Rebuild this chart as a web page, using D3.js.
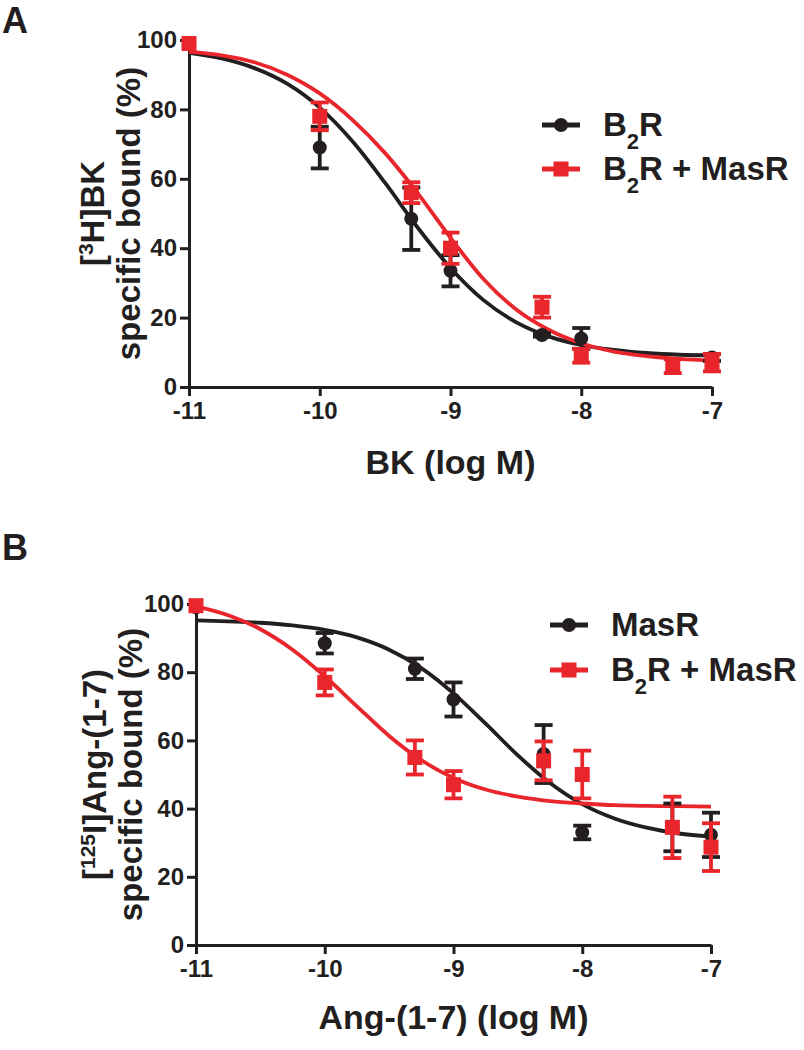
<!DOCTYPE html>
<html>
<head>
<meta charset="utf-8">
<script src="https://cdn.jsdelivr.net/npm/d3@7"></script>
<style>
  html, body { margin: 0; padding: 0; background: #fff; }
  svg { display: block; }
  text { font-family: "Liberation Sans", Arial, Helvetica, sans-serif; font-weight: bold; fill: #231f20; }
</style>
</head>
<body>
<svg id="chart" width="804" height="1050"></svg>
<script>
// ---------- data ----------
const xTicks = [-11, -10, -9, -8, -7];
const yTicks = [0, 20, 40, 60, 80, 100];

// measured concentrations (log M)
const doseX = [-11, -10, -9.3, -9, -8.3, -8, -7.3, -7];

// Panel A: [3H]BK binding
const aB2RMean = [99, 69, 48.5, 33.5, 15, 14, null, 8.5];
const aB2RErr  = [0, 6, 9, 4.5, 0.5, 3, null, 1];
const aMixMean = [99, 78, 56, 40, 23, 9, 6, 7];
const aMixErr  = [0, 4, 3, 4.5, 3, 2, 2, 2.5];

// Panel B: [125I]Ang-(1-7) binding
const bMasMean = [99, 88.5, 81, 72, 56, 33, 34.5, 32.3];
const bMasErr  = [0, 3, 3, 5, 8.5, 2, 7, 6.5];
const bMixMean = [99.5, 77, 55, 47, 54, 50, 34.5, 28.7];
const bMixErr  = [0, 3.8, 5, 4, 5.7, 7, 9, 7];

// fitted curves
const fitX = [-11, -10.75, -10.5, -10.25, -10, -9.75, -9.5, -9.25, -9, -8.75, -8.5, -8.25, -8, -7.75, -7.5, -7.25, -7];
const aFitB2R = [96.3, 94.7, 91.9, 87.4, 80.5, 70.8, 58.8, 45.9, 34.3, 25.1, 18.7, 14.6, 12.1, 10.7, 9.8, 9.3, 9.1];
const aFitMix = [96.6, 95.6, 93.6, 90.0, 84.6, 77.0, 67.4, 55.8, 43.0, 31.2, 22.4, 16.5, 12.6, 10.2, 8.9, 8.1, 7.6];
const bFitMas = [95.2, 94.9, 94.5, 93.7, 92.4, 90.2, 86.6, 81.2, 73.8, 64.9, 55.6, 47.5, 41.3, 37.1, 34.4, 32.7, 31.8];
const bFitMix = [99.3, 96.7, 92.6, 86.6, 78.8, 70.0, 61.3, 54.2, 49.0, 45.6, 43.5, 42.2, 41.5, 41.0, 40.8, 40.7, 40.6];

const BLACK = "#231f20";
const RED = "#e8262b";

const svg = d3.select("#chart");

function panel(cfg) {
  const g = svg.append("g");
  const x = d3.scaleLinear().domain([-11, -7]).range([cfg.x0, cfg.x1]);
  const y = d3.scaleLinear().domain([0, 100]).range([cfg.y0, cfg.y1]);

  // axes
  const xAxis = d3.axisBottom(x).tickValues(xTicks).tickSize(9).tickSizeOuter(0).tickPadding(6)
    .tickFormat(d => d3.format("d")(d).replace("\u2212", "-"));
  const yAxis = d3.axisLeft(y).tickValues(yTicks).tickSize(9).tickSizeOuter(0).tickPadding(3);

  const gx = g.append("g").attr("transform", `translate(0,${cfg.y0})`).call(xAxis);
  const gy = g.append("g").attr("transform", `translate(${cfg.x0},0)`).call(yAxis);
  [gx, gy].forEach(a => {
    a.attr("font-size", 24).attr("font-family", "'Liberation Sans', Arial, sans-serif").attr("font-weight", "bold");
    a.select(".domain").attr("stroke", BLACK).attr("stroke-width", 3);
    a.selectAll(".tick line").attr("stroke", BLACK).attr("stroke-width", 3);
    a.selectAll(".tick text").attr("fill", BLACK).attr("font-size", 24);
  });

  // series
  const line = d3.line().x(d => x(d[0])).y(d => y(d[1])).curve(d3.curveMonotoneX);
  cfg.series.forEach(s => {
    g.append("path").datum(fitX.map((v, i) => [v, s.fit[i]]))
      .attr("d", line).attr("fill", "none").attr("stroke", s.color).attr("stroke-width", 3.8);
  });
  cfg.series.forEach(s => {
    const pts = doseX.map((v, i) => ({ x: v, m: s.mean[i], e: s.err[i] })).filter(d => d.m != null);
    const eg = g.append("g");
    pts.forEach(d => {
      if (d.e > 0) {
        eg.append("line").attr("x1", x(d.x)).attr("x2", x(d.x))
          .attr("y1", y(d.m - d.e)).attr("y2", y(d.m + d.e))
          .attr("stroke", s.color).attr("stroke-width", 3.8);
        [d.m - d.e, d.m + d.e].forEach(v => {
          eg.append("line").attr("x1", x(d.x) - 9).attr("x2", x(d.x) + 9)
            .attr("y1", y(v)).attr("y2", y(v))
            .attr("stroke", s.color).attr("stroke-width", 3.8);
        });
      }
    });
    pts.forEach(d => {
      if (s.shape === "circle") {
        eg.append("circle").attr("cx", x(d.x)).attr("cy", y(d.m)).attr("r", 7).attr("fill", s.color);
      } else {
        eg.append("rect").attr("x", x(d.x) - 7.5).attr("y", y(d.m) - 7.5)
          .attr("width", 15).attr("height", 15).attr("fill", s.color);
      }
    });
  });

  // panel letter
  g.append("text").attr("x", 2).attr("y", cfg.letterY).style("font-size", "36px").text(cfg.letter);

  // x title
  g.append("text").attr("x", (cfg.x0 + cfg.x1) / 2).attr("y", cfg.xTitleY)
    .attr("text-anchor", "middle").style("font-size", "34px").text(cfg.xTitle);

  // y title (two lines, rotated)
  const cy = (cfg.y0 + cfg.y1) / 2;
  const t1 = g.append("text").attr("transform", `translate(${cfg.yTitleX1},${cy}) rotate(-90)`)
    .attr("text-anchor", "middle").style("font-size", "33px");
  cfg.yTitle1.forEach(p => {
    const ts = t1.append("tspan").text(p.t);
    if (p.sup) ts.attr("baseline-shift", "super").style("font-size", "21px");
  });
  g.append("text").attr("transform", `translate(${cfg.yTitleX2},${cy}) rotate(-90)`)
    .attr("text-anchor", "middle").style("font-size", "33px").text("specific bound (%)");

  // legend
  cfg.series.forEach((s, i) => {
    const ly = cfg.legY[i];
    g.append("line").attr("x1", cfg.legX).attr("x2", cfg.legX + 38).attr("y1", ly).attr("y2", ly)
      .attr("stroke", s.color).attr("stroke-width", 5);
    if (s.shape === "circle") {
      g.append("circle").attr("cx", cfg.legX + 19).attr("cy", ly).attr("r", 7).attr("fill", s.color);
    } else {
      g.append("rect").attr("x", cfg.legX + 11.5).attr("y", ly - 7.5).attr("width", 15).attr("height", 15).attr("fill", s.color);
    }
    const lt = g.append("text").attr("x", cfg.legX + 61).attr("y", ly + 11).style("font-size", "33px");
    s.label.forEach(p => {
      const ts = lt.append("tspan").text(p.t);
      if (p.sub) ts.attr("baseline-shift", "sub").style("font-size", "22px");
    });
  });
}

panel({
  x0: 189, x1: 712, y0: 387, y1: 40,
  letter: "A", letterY: 33,
  xTitle: "BK (log M)", xTitleY: 474,
  yTitle1: [{ t: "[" }, { t: "3", sup: true }, { t: "H]BK" }],
  yTitleX1: 104, yTitleX2: 140,
  legX: 542, legY: [125, 169],
  series: [
    { mean: aB2RMean, err: aB2RErr, fit: aFitB2R, color: BLACK, shape: "circle",
      label: [{ t: "B" }, { t: "2", sub: true }, { t: "R" }] },
    { mean: aMixMean, err: aMixErr, fit: aFitMix, color: RED, shape: "square",
      label: [{ t: "B" }, { t: "2", sub: true }, { t: "R + MasR" }] }
  ]
});

panel({
  x0: 196, x1: 711, y0: 945, y1: 604,
  letter: "B", letterY: 560,
  xTitle: "Ang-(1-7) (log M)", xTitleY: 1029,
  yTitle1: [{ t: "[" }, { t: "125", sup: true }, { t: "I]Ang-(1-7)" }],
  yTitleX1: 106, yTitleX2: 142,
  legX: 550, legY: [625, 670],
  series: [
    { mean: bMasMean, err: bMasErr, fit: bFitMas, color: BLACK, shape: "circle",
      label: [{ t: "MasR" }] },
    { mean: bMixMean, err: bMixErr, fit: bFitMix, color: RED, shape: "square",
      label: [{ t: "B" }, { t: "2", sub: true }, { t: "R + MasR" }] }
  ]
});
</script>
</body>
</html>
